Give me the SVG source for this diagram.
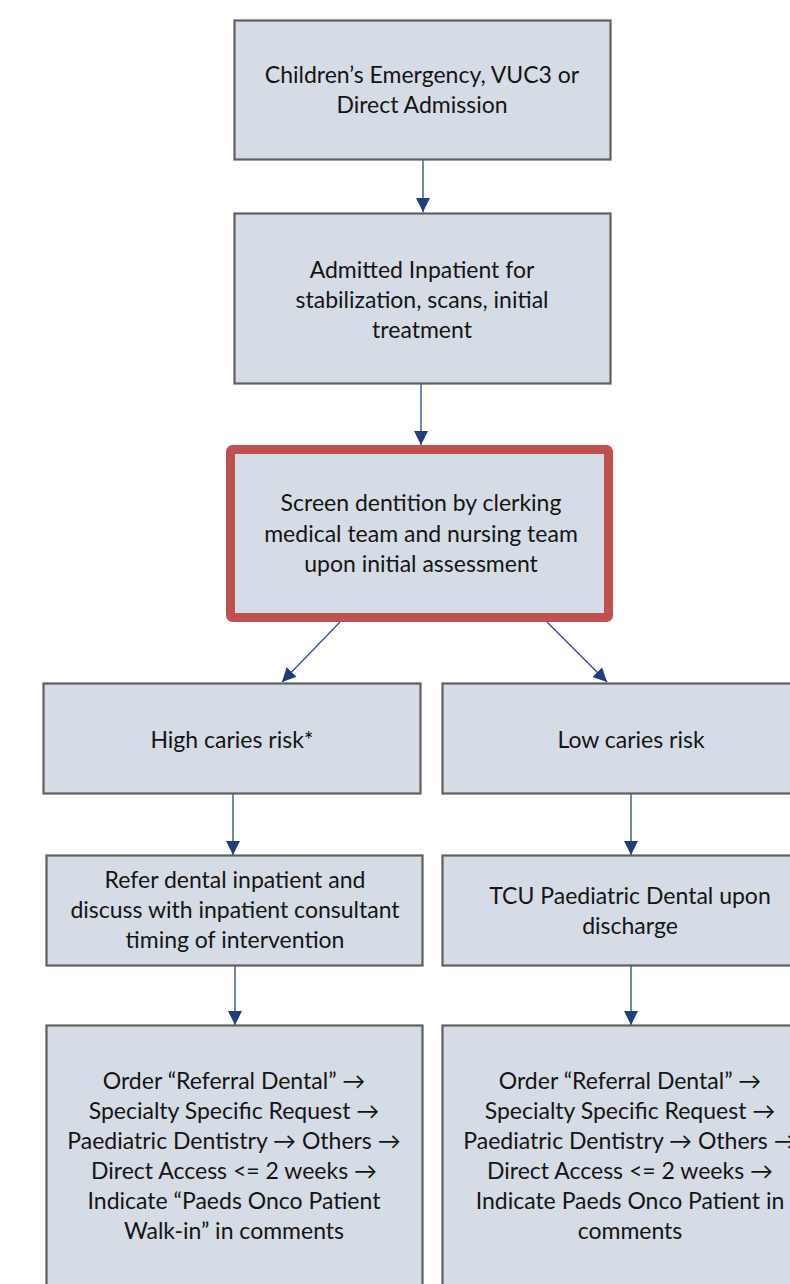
<svg xmlns="http://www.w3.org/2000/svg" width="790" height="1284" viewBox="0 0 790 1284">
<style>
.box{fill:#d6dce5;stroke:#5f5f5f;stroke-width:2.2}
.hl{fill:#d6dce5;stroke:#c0504d;stroke-width:9}
.t{font-family:Lato,"Open Sans","Liberation Sans",sans-serif;font-size:23px;fill:#141414;text-anchor:middle}
.c{stroke:#2f5597;stroke-width:1.4;fill:none}
</style>
<defs>
<marker id="ah" markerUnits="userSpaceOnUse" markerWidth="14" markerHeight="14" viewBox="0 0 14 14" refX="14" refY="7" orient="auto">
<path d="M0,0 L14,7 L0,14 Z" fill="#1f3f7a"/>
</marker>
</defs>
<rect width="790" height="1284" fill="#ffffff"/>
<g id="connectors">
<line class="c" x1="423" y1="160" x2="423" y2="212" marker-end="url(#ah)"/>
<line class="c" x1="421" y1="384" x2="421" y2="445" marker-end="url(#ah)"/>
<line class="c" x1="340" y1="622" x2="282" y2="682" marker-end="url(#ah)"/>
<line class="c" x1="547" y1="622" x2="607" y2="682" marker-end="url(#ah)"/>
<line class="c" x1="233" y1="794" x2="233" y2="855" marker-end="url(#ah)"/>
<line class="c" x1="631" y1="794" x2="631" y2="855" marker-end="url(#ah)"/>
<line class="c" x1="235" y1="965" x2="235" y2="1025" marker-end="url(#ah)"/>
<line class="c" x1="631" y1="966" x2="631" y2="1025" marker-end="url(#ah)"/>
</g>
<g id="n1">
<rect class="box" x="234.5" y="20.5" width="376" height="139"/>
<text class="t" x="422" y="83">Children’s Emergency, VUC3 or</text>
<text class="t" x="422" y="113">Direct Admission</text>
</g>
<g id="n2">
<rect class="box" x="234.5" y="213.5" width="376" height="170"/>
<text class="t" x="422" y="278">Admitted Inpatient for</text>
<text class="t" x="422" y="308">stabilization, scans, initial</text>
<text class="t" x="422" y="338">treatment</text>
</g>
<g id="n3">
<rect class="hl" x="230.5" y="449.5" width="378" height="168" rx="2"/>
<text class="t" x="421" y="511">Screen dentition by clerking</text>
<text class="t" x="421" y="542">medical team and nursing team</text>
<text class="t" x="421" y="572">upon initial assessment</text>
</g>
<g id="n4">
<rect class="box" x="43.5" y="683.5" width="377" height="110"/>
<text class="t" x="232" y="748">High caries risk*</text>
</g>
<g id="n5">
<rect class="box" x="442.5" y="683.5" width="380" height="110"/>
<text class="t" x="631" y="748">Low caries risk</text>
</g>
<g id="n6">
<rect class="box" x="46.5" y="855.5" width="376" height="110"/>
<text class="t" x="235" y="888">Refer dental inpatient and</text>
<text class="t" x="235" y="918">discuss with inpatient consultant</text>
<text class="t" x="235" y="948">timing of intervention</text>
</g>
<g id="n7">
<rect class="box" x="442.5" y="855.5" width="380" height="110"/>
<text class="t" x="630" y="904">TCU Paediatric Dental upon</text>
<text class="t" x="630" y="934">discharge</text>
</g>
<g id="n8">
<rect class="box" x="46.5" y="1025.5" width="376" height="290"/>
<text class="t" x="234" y="1089">Order “Referral Dental” →</text>
<text class="t" x="234" y="1119">Specialty Specific Request →</text>
<text class="t" x="234" y="1149">Paediatric Dentistry → Others →</text>
<text class="t" x="234" y="1179">Direct Access &lt;= 2 weeks →</text>
<text class="t" x="234" y="1209">Indicate “Paeds Onco Patient</text>
<text class="t" x="234" y="1239">Walk-in” in comments</text>
</g>
<g id="n9">
<rect class="box" x="442.5" y="1025.5" width="380" height="290"/>
<text class="t" x="630" y="1089">Order “Referral Dental” →</text>
<text class="t" x="630" y="1119">Specialty Specific Request →</text>
<text class="t" x="630" y="1149">Paediatric Dentistry → Others →</text>
<text class="t" x="630" y="1179">Direct Access &lt;= 2 weeks →</text>
<text class="t" x="630" y="1209">Indicate Paeds Onco Patient in</text>
<text class="t" x="630" y="1239">comments</text>
</g>
</svg>
